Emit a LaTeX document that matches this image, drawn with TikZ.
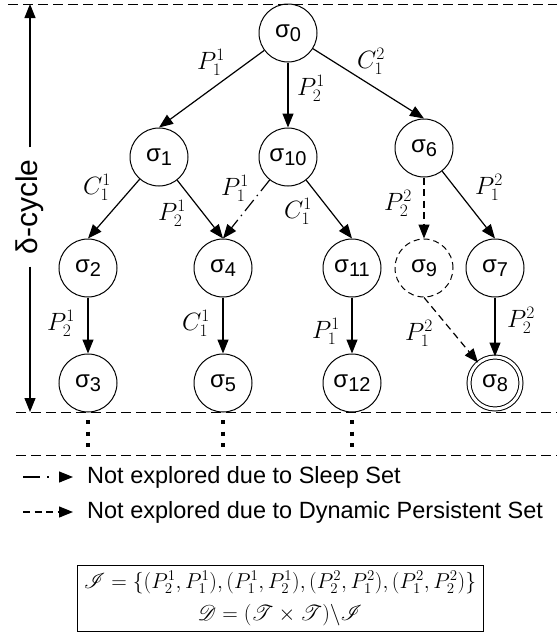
\RequirePackage{fix-cm}
\documentclass[tikz,border=0pt]{standalone}
\usepackage[no-math]{fontspec}
\setmainfont{Liberation Sans}
\usepackage{mathrsfs}
\usepackage{graphicx}
\usetikzlibrary{arrows.meta}
\newcommand\sg[1]{σ\raisebox{-0.3ex}{\fontsize{20}{20}\selectfont #1}}
\begin{document}
\begin{tikzpicture}[x=1pt,y=-1pt,
  st/.style={circle,draw,line width=1pt,minimum size=58pt,inner sep=0pt,font=\fontsize{24}{24}\selectfont},
  ar/.style={line width=1.2pt,-{Triangle[length=14pt,width=11pt]}},
  dd/.style={ar,dash pattern=on 7pt off 4.5pt},
  dsh/.style={ar,dash pattern=on 14pt off 5pt on 1.5pt off 5pt},
  hl/.style={line width=1pt,dash pattern=on 10pt off 5pt},
  dts/.style={line width=4pt,dash pattern=on 4pt off 7.5pt},
  lb/.style={font=\fontsize{25}{28}\selectfont,inner sep=1pt},
  lg/.style={font=\fontsize{23.5}{26}\selectfont,anchor=west,inner sep=0pt}]
\useasboundingbox (0,0) rectangle (557,635);
% level lines
\coordinate (tl) at (8,4);   \coordinate (tr) at (557,4);
\coordinate (ml) at (16,412); \coordinate (mr) at (557,412);
\coordinate (bl) at (16,455); \coordinate (br) at (557,455);
\draw[hl] (tl) -- (tr);
\draw[hl] (ml) -- (mr);
\draw[hl] (bl) -- (br);
% delta cycle
\node[rotate=90,font=\fontsize{30}{30}\selectfont,inner xsep=12pt,inner ysep=2pt] (dc) at (30,207) {δ-cycle};
\coordinate (dtop) at (30,4);
\coordinate (dbot) at (30,412);
\draw[ar] (dc.east) -- (dtop);
\draw[ar] (dc.west) -- (dbot);
% states
\node[st] (s0) at (288,33) {\sg0};
\node[st] (s1) at (159,157) {\sg1};
\node[st] (s10) at (288,157) {\sg{10}};
\node[st] (s6) at (424,148) {\sg6};
\node[st] (s2) at (88,268) {\sg2};
\node[st] (s4) at (223,268) {\sg4};
\node[st] (s11) at (352,268) {\sg{11}};
\node[st,dash pattern=on 6pt off 4pt] (s9) at (424,268) {\sg9};
\node[st] (s7) at (495,268) {\sg7};
\node[st] (s3) at (88,383) {\sg3};
\node[st] (s5) at (223,383) {\sg5};
\node[st] (s12) at (352,383) {\sg{12}};
\node[st,double,double distance=3pt,minimum size=52pt] (s8) at (495,383) {\sg8};
% edges
\draw[ar] (s0) -- (s1.north);
\draw[ar] (s0) -- (s10.north);
\draw[ar] (s0) -- (s6.north);
\draw[ar] (s1) -- (s2.north);
\draw[ar] (s1) -- (s4.north);
\draw[dsh] (s10) -- (s4.north);
\draw[ar] (s10) -- (s11.north);
\draw[dd] (s6) -- (s9.north);
\draw[ar] (s6) -- (s7.north);
\draw[ar] (s2) -- (s3.north);
\draw[ar] (s4) -- (s5.north);
\draw[ar] (s11) -- (s12.north);
\draw[dd] (s9.south) -- (s8);
\draw[ar] (s7) -- (s8.north);
% edge labels
\node[lb] (l1) at (211,62) {$P^1_1$};
\node[lb] (l2) at (311,88) {$P^1_2$};
\node[lb] (l3) at (371,61) {$C^2_1$};
\node[lb] (l4) at (97,187) {$C^1_1$};
\node[lb] (l5) at (172,213) {$P^1_2$};
\node[lb] (l6) at (235,188) {$P^1_1$};
\node[lb] (l7) at (298,211) {$C^1_1$};
\node[lb] (l8) at (398,203) {$P^2_2$};
\node[lb] (l9) at (489,187) {$P^2_1$};
\node[lb] (l10) at (61,323) {$P^1_2$};
\node[lb] (l11) at (196,323) {$C^1_1$};
\node[lb] (l12) at (326,331) {$P^1_1$};
\node[lb] (l13) at (419,333) {$P^2_1$};
\node[lb] (l14) at (521,320) {$P^2_2$};
% dots
\coordinate (d1a) at (88,420); \coordinate (d1b) at (88,448);
\coordinate (d2a) at (223,420); \coordinate (d2b) at (223,448);
\coordinate (d3a) at (352,420); \coordinate (d3b) at (352,448);
\draw[dts] (d1a) -- (d1b);
\draw[dts] (d2a) -- (d2b);
\draw[dts] (d3a) -- (d3b);
% legend
\coordinate (g1a) at (23,477); \coordinate (g1b) at (73,477);
\coordinate (g2a) at (23,512); \coordinate (g2b) at (73,512);
\draw[ar,dash pattern=on 17pt off 7pt on 2pt off 30pt] (g1a) -- (g1b);
\draw[dd] (g2a) -- (g2b);
\node[lg] (t1) at (87,477) {Not explored due to Sleep Set};
\node[lg] (t2) at (87,512) {Not explored due to Dynamic Persistent Set};
% box
\node[draw,line width=1pt,minimum width=406pt,minimum height=66pt,inner sep=0pt] (bx) at (280,598)
 {\resizebox{392pt}{!}{\fontsize{20.74}{25}\selectfont\renewcommand\arraystretch{1.25}%
  \begin{tabular}{@{}c@{}}
  $\mathscr{I}=\{(P^1_2,P^1_1),(P^1_1,P^1_2),(P^2_2,P^2_1),(P^2_1,P^2_2)\}$\\
  $\mathscr{D}=(\mathscr{T}\times\mathscr{T})\backslash\mathscr{I}$
  \end{tabular}}};
\end{tikzpicture}
\end{document}
